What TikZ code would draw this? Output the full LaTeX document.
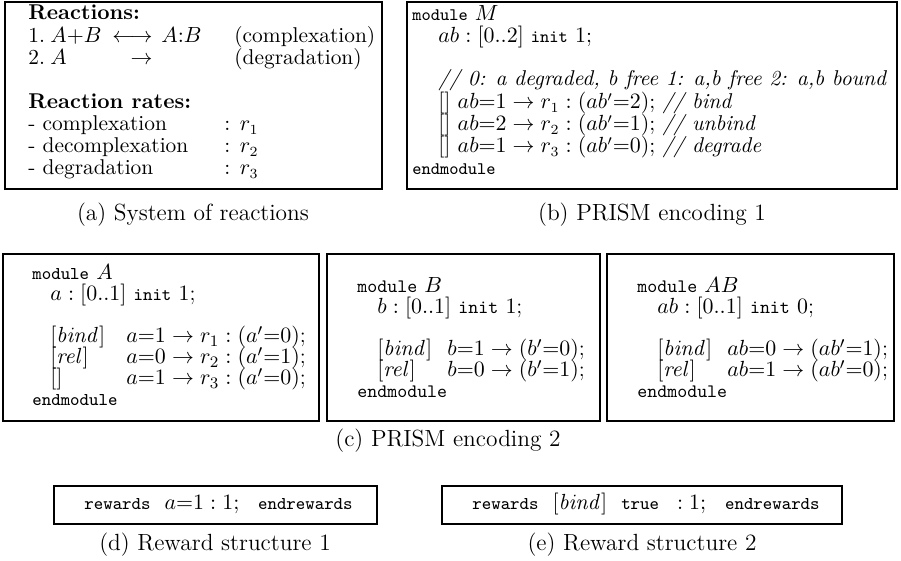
\documentclass[tikz,border=0pt]{standalone}
\usepackage{amsmath}
\usetikzlibrary{fit}
\newcommand{\ttb}[1]{{\fontsize{8.8}{10}\selectfont\ttfamily #1}}
\newcommand{\ttci}[1]{{\fontsize{9}{10}\selectfont\ttfamily #1}}
\newcommand{\ttcii}[1]{{\fontsize{9.5}{10}\selectfont\ttfamily #1}}
\newcommand{\ttr}[1]{{\fontsize{9}{10}\selectfont\ttfamily #1}}
\tikzset{
  frame/.style={draw, line width=1.2pt, inner sep=0pt},
  atx/.style={anchor=base west, inner sep=0pt, font=\fontsize{10.7}{12}\selectfont},
  ctx/.style={anchor=base west, inner sep=0pt, font=\fontsize{11}{12}\selectfont},
  rtx/.style={anchor=base west, inner sep=0pt, font=\fontsize{11}{12}\selectfont},
  captxt/.style={anchor=base, inner sep=0pt, font=\fontsize{11.7}{13}\selectfont},
}
\begin{document}
\begin{tikzpicture}[x=0.5pt,y=-0.5pt]
\useasboundingbox (0,0) rectangle (901,561);
% frames
\node[frame, fit={(5,2) (382,189)}] (boxa) {};
\node[frame, fit={(407,2) (897,189)}] (boxb) {};
\node[frame, fit={(3,254) (319,421)}] (boxc1) {};
\node[frame, fit={(327,254) (600,421)}] (boxc2) {};
\node[frame, fit={(607,254) (894,421)}] (boxc3) {};
\node[frame, fit={(54,486) (377,524)}] (boxd) {};
\node[frame, fit={(442,486) (842,524)}] (boxe) {};
% (a) system of reactions
\node[atx] (a1) at (28,20) {\textbf{Reactions:}};
\node[atx] (a2) at (28,43) {1.};
\node[atx] (a3) at (50,43) {$A{+}B$};
\node[atx, anchor=base east] (a4) at (153,43) {$\longleftrightarrow$};
\node[atx] (a5) at (161,43) {$A{:}B$};
\node[atx] (a6) at (234,43) {(complexation)};
\node[atx] (a7) at (28,65) {2.};
\node[atx] (a8) at (50,65) {$A$};
\node[atx, anchor=base east] (a9) at (153,65) {$\rightarrow$};
\node[atx] (a10) at (234,65) {(degradation)};
\node[atx] (a11) at (28,109) {\textbf{Reaction rates:}};
\node[atx] (a12) at (28,131) {- complexation};
\node[atx] (a13) at (224,131) {: $r_1$};
\node[atx] (a14) at (28,153) {- decomplexation};
\node[atx] (a15) at (224,153) {: $r_2$};
\node[atx] (a16) at (28,175) {- degradation};
\node[atx] (a17) at (224,175) {: $r_3$};
% (b) PRISM encoding 1
\node[atx] (b1) at (412,21) {\ttb{module} $M$};
\node[atx] (b2) at (438,43) {$ab : [0..2]$ \ttb{init} $1$;};
\node[atx] (b3) at (438,86) {\textit{// 0: a degraded, b free 1: a,b free 2: a,b bound}};
\node[atx] (b4) at (438,109) {$[]$ $ab{=}1 \rightarrow r_1 : (ab'{=}2)$; \textit{// bind}};
\node[atx] (b5) at (438,131) {$[]$ $ab{=}2 \rightarrow r_2 : (ab'{=}1)$; \textit{// unbind}};
\node[atx] (b6) at (438,153) {$[]$ $ab{=}1 \rightarrow r_3 : (ab'{=}0)$; \textit{// degrade}};
\node[atx] (b7) at (412,175) {\ttb{endmodule}};
% (c) module A
\node[ctx] (c1a) at (32,280) {\ttci{module} $A$};
\node[ctx] (c1b) at (50,301) {$a : [0..1]$ \ttci{init} $1$;};
\node[ctx] (c1c) at (50,343) {$[\mathit{bind}]$};
\node[ctx] (c1d) at (126,343) {$a{=}1 \rightarrow r_1 : (a'{=}0)$;};
\node[ctx] (c1e) at (50,364) {$[\mathit{rel}]$};
\node[ctx] (c1f) at (126,364) {$a{=}0 \rightarrow r_2 : (a'{=}1)$;};
\node[ctx] (c1g) at (50,385) {$[]$};
\node[ctx] (c1h) at (126,385) {$a{=}1 \rightarrow r_3 : (a'{=}0)$;};
\node[ctx] (c1i) at (32,406) {\ttci{endmodule}};
% (c) module B
\node[ctx] (c2a) at (357,293) {\ttcii{module} $B$};
\node[ctx] (c2b) at (377,314) {$b : [0..1]$ \ttcii{init} $1$;};
\node[ctx] (c2c) at (377,356) {$[\mathit{bind}]$};
\node[ctx] (c2d) at (447,356) {$b{=}1 \rightarrow (b'{=}0)$;};
\node[ctx] (c2e) at (377,377) {$[\mathit{rel}]$};
\node[ctx] (c2f) at (447,377) {$b{=}0 \rightarrow (b'{=}1)$;};
\node[ctx] (c2g) at (357,398) {\ttcii{endmodule}};
% (c) module AB
\node[ctx] (c3a) at (637,293) {\ttcii{module} $AB$};
\node[ctx] (c3b) at (657,314) {$ab : [0..1]$ \ttcii{init} $0$;};
\node[ctx] (c3c) at (657,356) {$[\mathit{bind}]$};
\node[ctx] (c3d) at (727,356) {$ab{=}0 \rightarrow (ab'{=}1)$;};
\node[ctx] (c3e) at (657,377) {$[\mathit{rel}]$};
\node[ctx] (c3f) at (727,377) {$ab{=}1 \rightarrow (ab'{=}0)$;};
\node[ctx] (c3g) at (637,398) {\ttcii{endmodule}};
% (d), (e) rewards
\node[rtx] (d1) at (84,510) {\ttr{rewards}\hspace{7pt}$a{=}1 : 1;$};
\node[rtx, anchor=base east] (d2) at (353,510) {\ttr{endrewards}};
\node[rtx] (e1) at (472,510) {\ttr{rewards}\hspace{7pt}$[\mathit{bind}]$\hspace{7pt}\ttr{true}\hspace{9pt}$: 1;$};
\node[rtx, anchor=base east] (e2) at (820,510) {\ttr{endrewards}};
% captions
\node[captxt] (capa) at (193,221) {(a) System of reactions};
\node[captxt] (capb) at (652,221) {(b) PRISM encoding 1};
\node[captxt] (capc) at (448,447) {(c) PRISM encoding 2};
\node[captxt] (capd) at (215,551) {(d) Reward structure 1};
\node[captxt] (cape) at (642,551) {(e) Reward structure 2};
\end{tikzpicture}
\end{document}
